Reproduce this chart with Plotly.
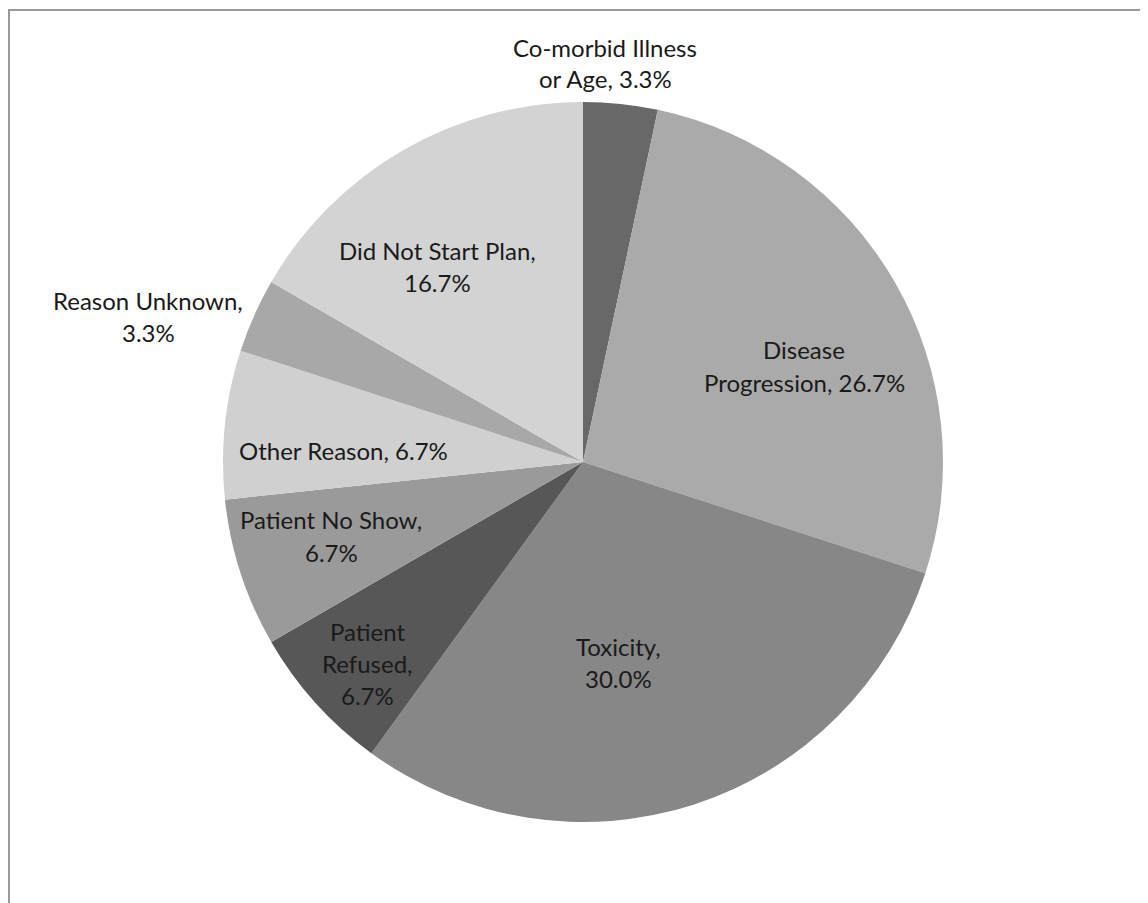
import plotly.graph_objects as go

# Data
categories = ["Co-morbid Illness or Age", "Disease Progression", "Toxicity",
              "Patient Refused", "Patient No Show", "Other Reason",
              "Reason Unknown", "Did Not Start Plan"]
counts = [1, 8, 9, 2, 2, 2, 1, 5]
colors = ["#686868", "#aaaaaa", "#878787", "#575757", "#9a9a9a", "#d0d0d0",
          "#a8a8a8", "#d3d3d3"]
label_lines = [
    ["Co-morbid Illness", "or Age, {p}"],
    ["Disease", "Progression, {p}"],
    ["Toxicity,", "{p}"],
    ["Patient", "Refused,", "{p}"],
    ["Patient No Show,", "{p}"],
    ["Other Reason, {p}"],
    ["Reason Unknown,", "{p}"],
    ["Did Not Start Plan,", "{p}"],
]
# label anchor (center x, first-line y) in window pixels
label_pos = [(605, 47), (804, 350), (618, 646), (367, 631), (331, 520),
             (343, 450), (148, 300), (437, 250)]

OFF = 8  # default page body margin
W, H = 1140, 895
total = sum(counts)

def px(x):
    return (x - OFF) / W

def py(y):
    return 1 - (y - OFF) / H

fig = go.Figure(go.Pie(
    labels=categories, values=counts, sort=False, direction="clockwise",
    rotation=0, marker=dict(colors=colors, line=dict(width=0)),
    textinfo="none", hoverinfo="label+percent", showlegend=False,
    domain=dict(x=[px(223), px(943)], y=[py(822), py(102)]),
))

annotations = []
line_h = 32
for lines, (cx, cy), v in zip(label_lines, label_pos, counts):
    pct = f"{v / total * 100:.1f}%"
    for i, ln in enumerate(lines):
        annotations.append(dict(
            x=px(cx), y=py(cy + i * line_h), xref="paper", yref="paper",
            text=ln.format(p=pct), showarrow=False, xanchor="center",
            yanchor="middle", font=dict(family="Lato", size=24, color="#1a1a1a"),
        ))

fig.update_layout(
    width=W, height=H, margin=dict(l=0, r=0, t=0, b=0),
    paper_bgcolor="white", plot_bgcolor="white",
    annotations=annotations,
    shapes=[dict(type="rect", xref="paper", yref="paper",
                 x0=px(9), x1=1.05, y0=-0.05, y1=py(10),
                 line=dict(color="#999999", width=2))],
)

fig.write_html("out.html")
